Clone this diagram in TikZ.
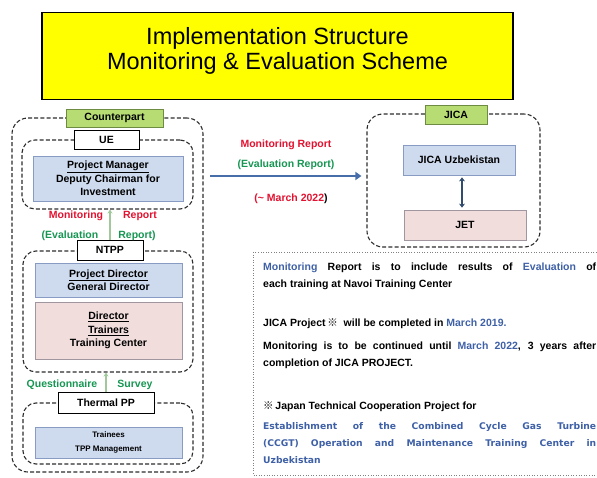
\documentclass[tikz,border=0pt]{standalone}
\usepackage{fontspec}
\setmainfont{Liberation Sans}
\newfontfamily\cjkfont{Noto Sans CJK JP}
\newfontfamily\widefont{DejaVu Sans}
\usetikzlibrary{positioning, arrows.meta}

\definecolor{titleyellow}{RGB}{255,255,0}
\definecolor{taggreen}{RGB}{184,220,116}
\definecolor{taggreenline}{RGB}{110,140,65}
\definecolor{boxblue}{RGB}{206,219,239}
\definecolor{boxblueline}{RGB}{135,155,195}
\definecolor{boxpink}{RGB}{242,221,221}
\definecolor{boxpinkline}{RGB}{160,150,160}
\definecolor{framegray}{RGB}{45,45,45}
\definecolor{repred}{RGB}{226,18,48}
\definecolor{repgreen}{RGB}{22,150,82}
\definecolor{textblue}{RGB}{62,96,166}
\definecolor{arrowblue}{RGB}{72,110,170}
\definecolor{arrowgreen}{RGB}{160,200,155}
\definecolor{linkblue}{RGB}{50,76,112}

\newcommand{\refmark}{{\cjkfont ※}}

\begin{document}
\begin{tikzpicture}[
    x=1pt, y=-1pt,
    >=Stealth,
    every node/.style={align=center, inner sep=0pt,
        font=\bfseries\fontsize{10.5}{13.5}\selectfont},
    frame/.style={draw=framegray, line width=1.1pt,
        dash pattern=on 4pt off 2.2pt, rounded corners=16pt},
    tag/.style={draw=taggreenline, fill=taggreen, line width=0.8pt},
    plainbox/.style={draw=black, fill=white, line width=0.8pt},
    bluebox/.style={draw=boxblueline, fill=boxblue, line width=0.8pt},
    pinkbox/.style={draw=boxpinkline, fill=boxpink, line width=0.8pt},
    uparrow/.style={-{Stealth[length=4pt, width=5pt]}, line width=1.8pt, arrowgreen},
    note/.style={anchor=base west, text width=333pt, align=justify,
        font=\bfseries\fontsize{10.5}{17}\selectfont}
]
\useasboundingbox (0,0) rectangle (597,477);

% Title
\node[draw=black, fill=titleyellow, line width=1.4pt,
      minimum width=471pt, minimum height=87pt] (title) at (277.5,56) {};
\node[font=\fontsize{23.5}{25}\selectfont] (titletext) at ([yshift=4.6pt]title.center)
    {Implementation Structure\\Monitoring \& Evaluation Scheme};

% Counterpart side
\node[frame, minimum width=191pt, minimum height=354pt] (cpframe) at (107.5,295) {};
\node[tag, minimum width=97pt, minimum height=18pt] (cptag) at (114.5,118) {Counterpart};

\node[frame, rounded corners=13pt, minimum width=171pt, minimum height=69pt] (ueframe) at (107.5,174.5) {};
\node[plainbox, minimum width=65pt, minimum height=19pt] (uetag) at (106.5,139.5) {UE};
\node[bluebox, minimum width=150pt, minimum height=45pt] (pm) at (108,178.5)
    {\underline{Project Manager}\\Deputy Chairman for\\Investment};

\node[frame, rounded corners=13pt, minimum width=170pt, minimum height=121pt] (ntppframe) at (108,311.5) {};
\node[plainbox, minimum width=66pt, minimum height=20pt] (ntpptag) at (110,250) {NTPP};
\node[bluebox, minimum width=147pt, minimum height=34pt] (pd) at (108.5,280)
    {\underline{Project Director}\\General Director};
\node[pinkbox, minimum width=147pt, minimum height=57pt] (dt) at (108.5,330.5)
    {\underline{Director}\\\underline{Trainers}\\Training Center};

\node[frame, rounded corners=13pt, minimum width=170pt, minimum height=61pt] (tppframe) at (108,433.5) {};
\node[plainbox, minimum width=96pt, minimum height=21pt] (tpptag) at (106,402.5) {Thermal PP};
\node[bluebox, minimum width=147pt, minimum height=31pt,
      font=\bfseries\fontsize{8}{14}\selectfont] (trainees) at (108.5,442.5)
    {Trainees\\TPP Management};

% reports going up
\draw[uparrow] (ntpptag.north) -- (ntpptag.north |- ueframe.south);
\node[anchor=base, text=repred] (monleft) at (76,218) {Monitoring};
\node[anchor=base, text=repred] (monright) at (140,218) {Report};
\node[anchor=base, text=repgreen] (evalleft) at (70,238) {(Evaluation};
\node[anchor=base, text=repgreen] (evalright) at (137,238) {Report)};

\draw[uparrow] (tpptag.north) -- (tpptag.north |- ntppframe.south);
\node[anchor=base, text=repgreen] (quest) at (62,387) {Questionnaire};
\node[anchor=base, text=repgreen] (survey) at (135,387) {Survey};

% JICA side
\node[frame, minimum width=173pt, minimum height=133pt] (jicaframe) at (453.5,180.5) {};
\node[tag, minimum width=62pt, minimum height=19pt] (jicatag) at (456,114.5) {JICA};
\node[bluebox, minimum width=112pt, minimum height=30pt] (jicauz) at (459,160) {JICA Uzbekistan};
\node[pinkbox, minimum width=122pt, minimum height=30pt] (jet) at (465,225) {JET};
\draw[{Stealth[length=4pt, width=6pt]}-{Stealth[length=4pt, width=6pt]}, line width=2pt, linkblue,
      shorten <=2pt, shorten >=2pt]
    ([xshift=3pt]jicauz.south) -- ([xshift=3pt]jicauz.south |- jet.north);

% report to JICA
\coordinate (repstart) at (210,176);
\draw[-{Triangle[length=6pt, width=8pt]}, line width=2.6pt, arrowblue, shorten >=5pt]
    (repstart) -- (repstart -| jicaframe.west);
\node[anchor=base, text=repred] (reptop) at (286,147) {Monitoring Report};
\node[anchor=base, text=repgreen] (repmid) at (286,167) {(Evaluation Report)};
\node[anchor=base, text=repred] (repdate) at (291,201) {(\textasciitilde{} March 2022\textcolor{black}{)}};

% notes
\draw[gray, line width=0.8pt, dash pattern=on 1pt off 1.6pt] (253,252) rectangle (605,475);
\node[note] (note1) at (263,270)
    {\textcolor{textblue}{Monitoring} Report is to include results of \textcolor{textblue}{Evaluation} of\linebreak
     each training at Navoi Training Center};
\node[note] (note2) at (263,326)
    {JICA Project\,\refmark\ \ will be completed in \textcolor{textblue}{March 2019.}};
\node[note] (note3) at (263,349)
    {Monitoring is to be continued until \textcolor{textblue}{March 2022}, 3 years after\linebreak
     completion of JICA PROJECT.};
\node[note] (note4) at (263,409)
    {\refmark\,Japan Technical Cooperation Project for};
\node[note, text=textblue, font=\widefont\bfseries\fontsize{9.2}{17}\selectfont] (note5) at (263,429)
    {Establishment of the Combined Cycle Gas Turbine\linebreak
     (CCGT) Operation and Maintenance Training Center in\linebreak
     Uzbekistan};

\end{tikzpicture}
\end{document}
